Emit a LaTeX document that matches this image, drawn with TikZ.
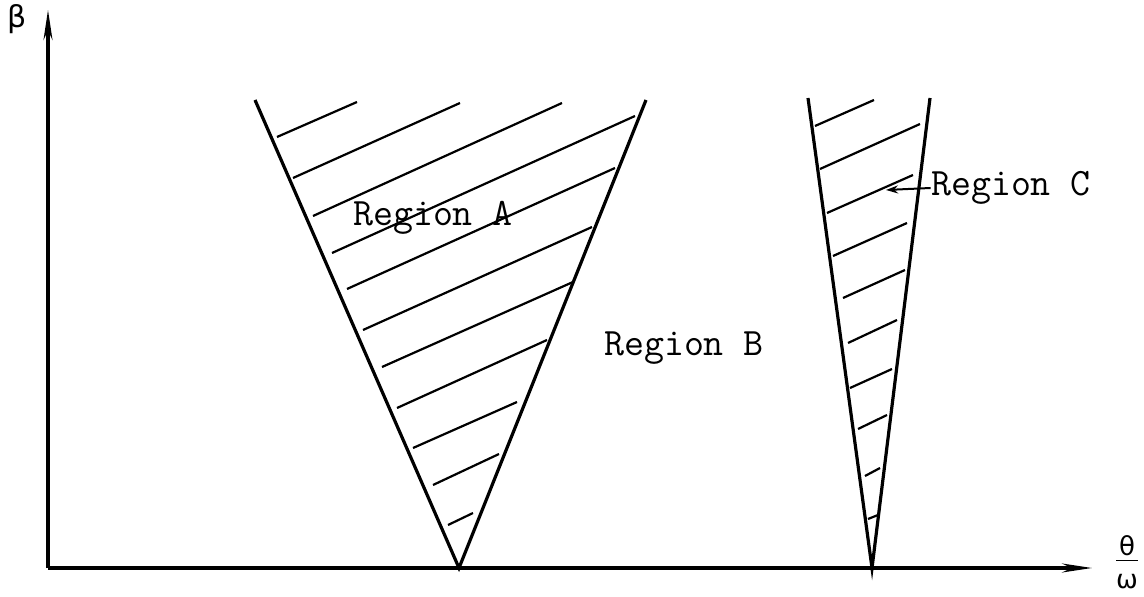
\documentclass[tikz,border=0pt]{standalone}
\usepackage{fontspec}
\newfontfamily\symfont{DejaVu Sans}
\usetikzlibrary{positioning}
\usetikzlibrary{arrows.meta}
\tikzset{
    axis/.style={line width=1.6pt,-{Stealth[length=15pt,width=4.5pt]}},
    edgeline/.style={line width=1.6pt},
    hatch/.style={line width=1.1pt},
    reglabel/.style={font=\ttfamily\fontsize{19.4}{22}\selectfont,inner sep=0pt}
}

\begin{document}
\begin{tikzpicture}[x=0.5pt,y=-0.5pt]
\useasboundingbox (0,0) rectangle (1144,597);
    \coordinate (O) at (48,568);
    \coordinate (ytop) at (48,10);
    \coordinate (xend) at (1092,568);
    \node[font=\symfont\fontsize{15}{17}\selectfont] (beta) at (17,19) {β};
    \node[font=\symfont\fontsize{13}{15}\selectfont,inner sep=0pt] (frac) at (1127,566)
        {\begin{tabular}{@{}c@{}}θ\\[-2pt]\hline\rule{0pt}{14pt}ω\end{tabular}};

    \draw[axis] (O) -- (ytop);
    \draw[axis] (O) -- (xend);

    % region A wedge
    \coordinate (aL) at (255,100);
    \coordinate (aR) at (646,100);
    \coordinate (aBot) at (459,568);
    \draw[edgeline] (aL) -- (aBot) -- (aR);
    \foreach \xa/\ya/\xb/\yb in {277/137/357/102, 293/178/460/103, 313/216/562/103,
        332/253/635/116, 347/289/615/168, 363/330/592/227, 382/367/573/282,
        397/408/547/340, 413/448/517/402, 433/485/499/454, 448/525/473/513}
        \draw[hatch] (\xa,\ya) -- (\xb,\yb);

    % region C wedge
    \coordinate (cL) at (808,98);
    \coordinate (cR) at (930,98);
    \coordinate (cBot) at (872,568);
    \draw[edgeline] (cL) -- (cBot) -- (cR);
    \foreach \xa/\ya/\xb/\yb in {815/126/874/100, 820/169/920/124, 827/213/913/175,
        833/256/907/223, 843/298/905/270, 848/343/897/320, 850/388/892/369,
        858/429/887/415, 865/476/880/468, 868/519/878/515}
        \draw[hatch] (\xa,\ya) -- (\xb,\yb);

    \node[reglabel] (rA) at (433,218) {Region A};
    \node[reglabel] (rB) at (684,348) {Region B};
    \node[reglabel] (rC) at (1011,188) {Region C};
    \coordinate (ctip) at (886,190);
    \draw[line width=1pt,-{Stealth[length=6pt,width=4pt]}] (rC.west) -- (ctip);
\end{tikzpicture}
\end{document}
